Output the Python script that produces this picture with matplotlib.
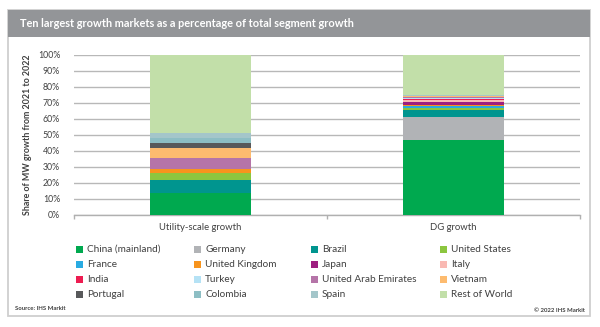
import matplotlib
matplotlib.use("Agg")
import matplotlib.pyplot as plt
from matplotlib.patches import Rectangle
import numpy as np

plt.rcParams['font.family'] = ['Lato', 'DejaVu Sans']

categories = ["Utility-scale growth", "DG growth"]

markets = ["China (mainland)", "Germany", "Brazil", "United States",
           "France", "United Kingdom", "Japan", "Italy",
           "India", "Turkey", "United Arab Emirates", "Vietnam",
           "Portugal", "Colombia", "Spain", "Rest of World"]

colors = ["#00a94f", "#b1b3b6", "#00958f", "#8cc63f",
          "#29abe2", "#f7941d", "#9e1f80", "#f9b9b3",
          "#ed1c51", "#b5e2f5", "#b574a8", "#fdbb6f",
          "#58595b", "#8dbec4", "#a4c6ca", "#c2dfa9"]

# share of segment growth (%), per market: [utility-scale, DG]
china = [13.2, 47.0]
germany = [0.0, 13.9]
brazil = [8.4, 4.6]
united_states = [4.2, 1.4]
france = [0.0, 1.2]
united_kingdom = [2.7, 0.6]
japan = [0.0, 1.6]
italy = [0.0, 1.2]
india = [0.0, 1.0]
turkey = [0.0, 0.5]
uae = [7.1, 0.8]
vietnam = [6.3, 0.3]
portugal = [3.1, 0.2]
colombia = [2.8, 0.2]
spain = [3.5, 0.4]
rest_of_world = [48.7, 25.1]

series = [china, germany, brazil, united_states, france, united_kingdom,
          japan, italy, india, turkey, uae, vietnam, portugal, colombia,
          spain, rest_of_world]

W, H = 600, 327
fig = plt.figure(figsize=(W / 100, H / 100), dpi=100)

def fx(px):
    return px / W

def fy(py):
    return 1 - py / H

text_col = "#404040"

# outer panel frame and title bar
fig.patches.append(Rectangle((fx(8), fy(316)), fx(582), 306 / H,
                             transform=fig.transFigure, facecolor="white",
                             edgecolor="#cfcfcf", linewidth=1.3, zorder=-2))
fig.patches.append(Rectangle((fx(8), fy(36.5)), fx(582), 26.5 / H,
                             transform=fig.transFigure, facecolor="#939598",
                             edgecolor="none", zorder=-1))
fig.text(fx(20), fy(23.5), "Ten largest growth markets as a percentage of total segment growth",
         color="white", fontsize=7.95, fontweight="bold", va="center", ha="left")

ax = fig.add_axes([fx(74), fy(214.5), fx(506), (214.5 - 55) / H])
ax.set_facecolor("none")

x = np.arange(len(categories))
bottom = np.zeros(len(categories))
for vals, col in zip(series, colors):
    ax.bar(x, vals, width=0.4, bottom=bottom, color=col, edgecolor="none", zorder=3)
    bottom += np.array(vals)

ax.set_xlim(-0.5, 1.5)
ax.set_ylim(0, 100)
ax.set_yticks(np.arange(0, 101, 10))
ax.set_yticklabels([f"{v}%" for v in range(0, 101, 10)])
ax.yaxis.grid(True, color="#b8b8b8", linewidth=1.0, zorder=0)
ax.set_axisbelow(True)
for s in ["top", "right", "left"]:
    ax.spines[s].set_visible(False)
ax.spines["bottom"].set_color("#b0b0b0")
ax.spines["bottom"].set_linewidth(1.0)
ax.tick_params(axis="y", length=0, pad=10, labelsize=6.3, labelcolor=text_col)
ax.set_xticks(x)
ax.set_xticklabels(categories)
ax.tick_params(axis="x", length=0, pad=6, labelsize=6.8, labelcolor=text_col)
ax.set_xticks([-0.5, 0.5, 1.5], minor=True)
ax.tick_params(axis="x", which="minor", length=3, color="#b0b0b0", width=1.0)
ax.set_ylabel("Share of MW growth from 2021 to 2022", fontsize=6.4,
              fontweight="bold", color=text_col, labelpad=4)

# legend grid: four columns, filled row by row
col_x = [79, 197, 314, 443]
row_y = [249.5, 264.5, 279.5, 294.5]
for i, (name, col) in enumerate(zip(markets, colors)):
    r, c = divmod(i, 4)
    cx, cy = col_x[c], row_y[r]
    fig.patches.append(Rectangle((fx(cx - 3.5), fy(cy + 3.5)), fx(7), 7 / H,
                                 transform=fig.transFigure, facecolor=col,
                                 edgecolor="none", zorder=2))
    fig.text(fx(cx + 8), fy(cy), name, fontsize=7.2, color=text_col,
             va="center", ha="left")

fig.text(fx(15), fy(308.5), "Source: IHS Markit", fontsize=4.3, color=text_col,
         fontweight="bold", va="center", ha="left")
fig.text(fx(585), fy(310), "© 2022 IHS Markit", fontsize=4.3, color=text_col,
         fontweight="bold", va="center", ha="right")

fig.savefig("out.png", dpi=100)
